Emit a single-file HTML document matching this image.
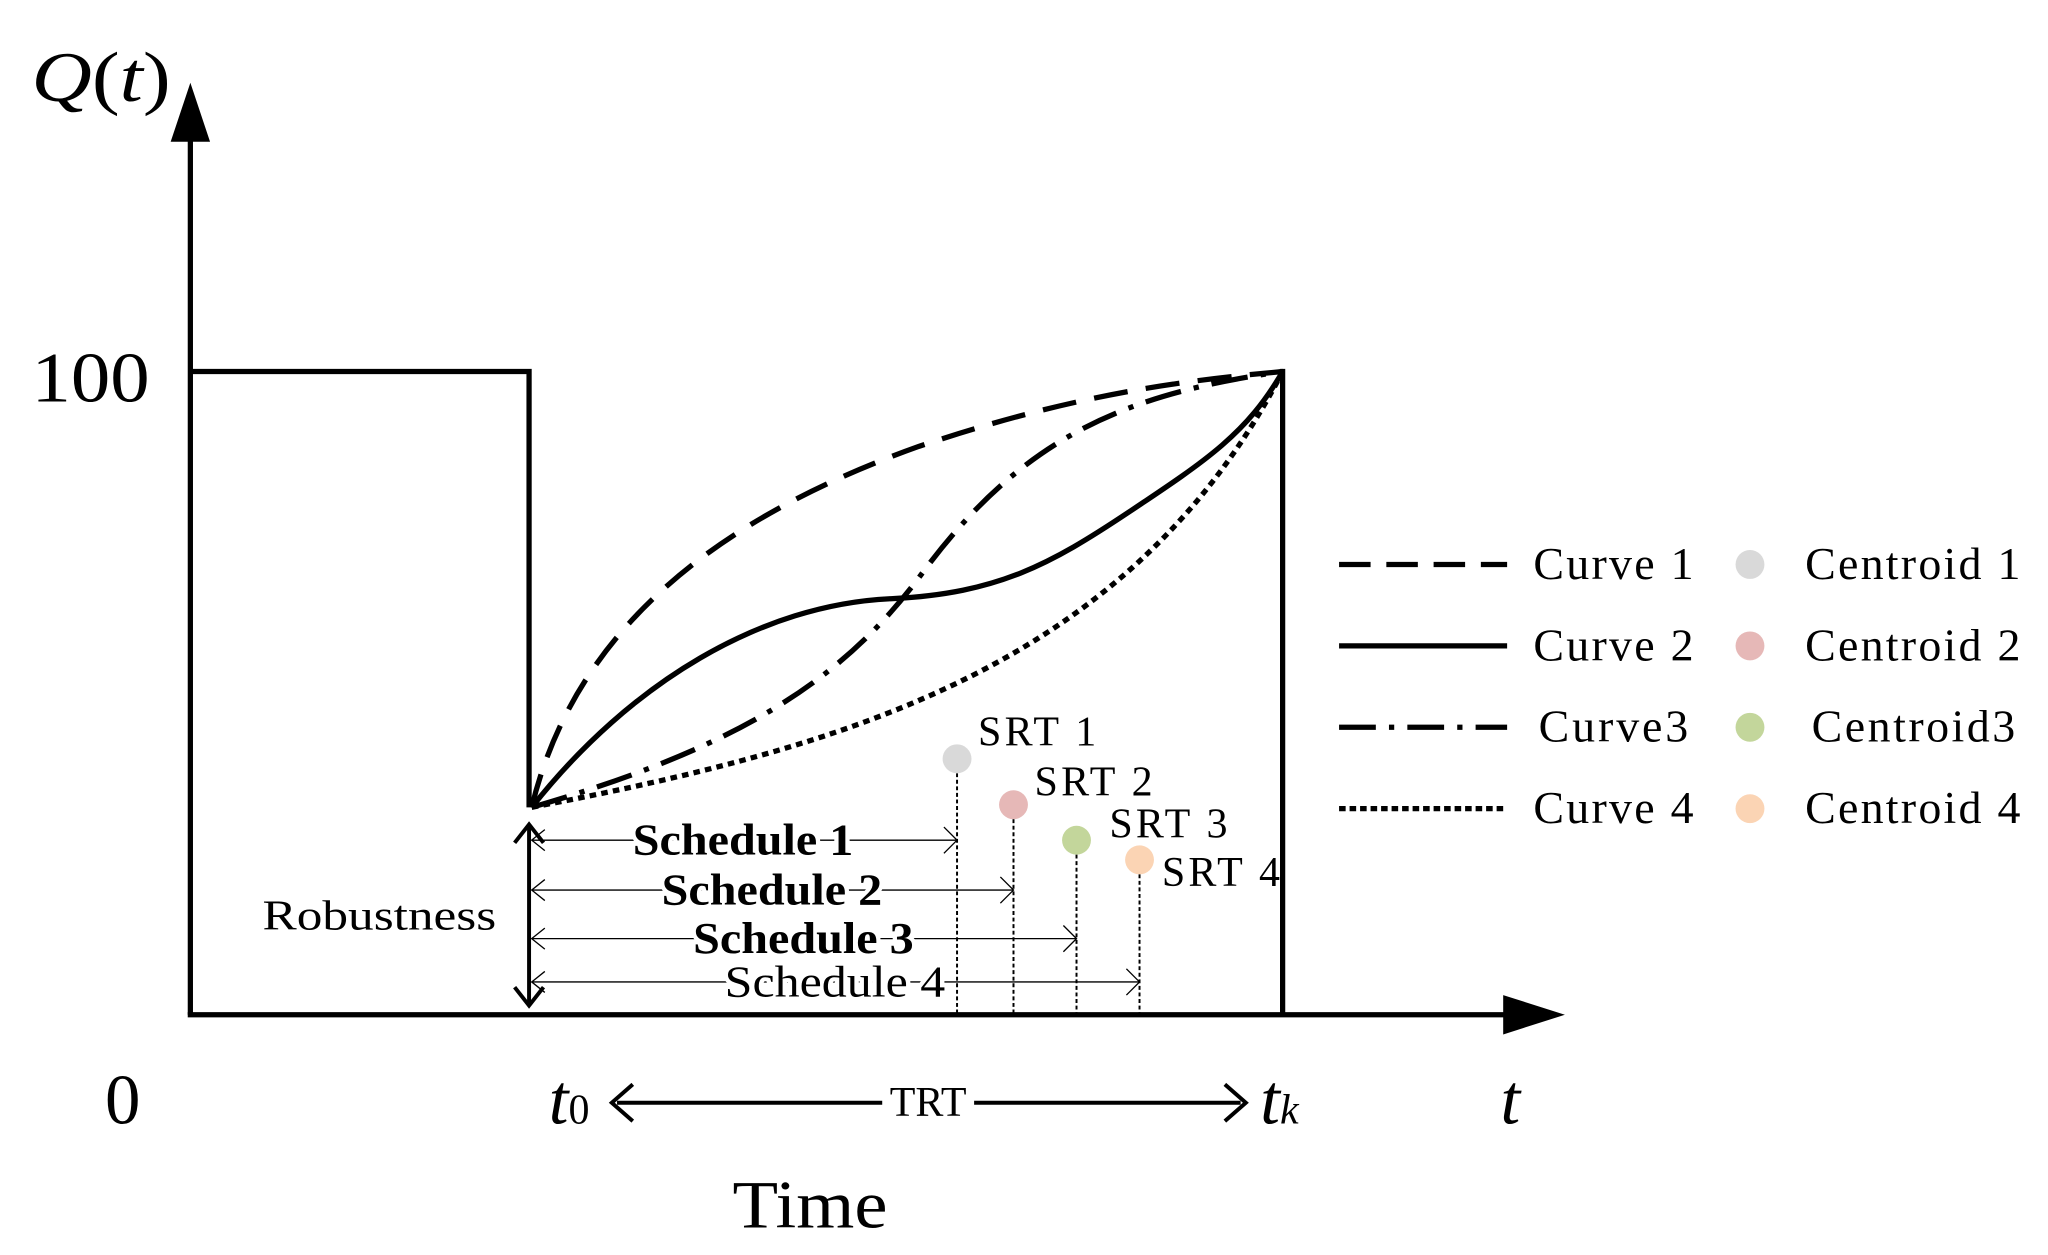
<!DOCTYPE html>
<html><head><style>html,body{margin:0;padding:0;background:#fff;}svg{display:block;}</style></head>
<body>
<svg width="2048" height="1255" viewBox="0 0 1560 956" preserveAspectRatio="none" xmlns="http://www.w3.org/2000/svg" font-family="Liberation Serif, serif">
<rect width="1560" height="956" fill="#fff"/>
<!-- axes -->
<line x1="145" y1="773" x2="145" y2="100" stroke="#000" stroke-width="4"/>
<polygon points="130,108 160,108 145,63" fill="#000"/>
<line x1="143" y1="773" x2="1150" y2="773" stroke="#000" stroke-width="4"/>
<polygon points="1145,758 1145,788 1192,773" fill="#000"/>
<!-- step -->
<polyline points="145,283 403,283 403,615" fill="none" stroke="#000" stroke-width="4"/>
<line x1="977" y1="281" x2="977" y2="773" stroke="#000" stroke-width="4"/>
<!-- curves -->
<path d="M405,615 C440,470 560,390 700,340 C820,300 900,290 977,283" fill="none" stroke="#000" stroke-width="4" stroke-dasharray="26,14"/>
<path d="M405,615 C480,520 580,460 680,456 C760,452 800,430 860,390 C920,350 950,330 977,283" fill="none" stroke="#000" stroke-width="4"/>
<path d="M405,615 C560,570 640,520 700,440 C780,330 860,300 977,283" fill="none" stroke="#000" stroke-width="4" stroke-dasharray="28,10,4,10"/>
<path d="M405,615 C640,570 860,510 977,283" fill="none" stroke="#000" stroke-width="4" stroke-dasharray="5,4"/>
<!-- centroids -->
<g stroke-width="1.5" stroke-dasharray="3,2">
<line x1="729" y1="589" x2="729" y2="772" stroke="#000"/>
<line x1="772" y1="624" x2="772" y2="772" stroke="#000"/>
<line x1="820" y1="651" x2="820" y2="772" stroke="#000"/>
<line x1="868" y1="666" x2="868" y2="772" stroke="#000"/>
</g>
<circle cx="729" cy="578" r="11" fill="#d9d9d9"/>
<circle cx="772" cy="613" r="11" fill="#e6b8b7"/>
<circle cx="820" cy="640" r="11" fill="#c3d69b"/>
<circle cx="868" cy="655" r="11" fill="#fbd4b4"/>
<g font-size="32" fill="#000" lengthAdjust="spacingAndGlyphs">
<text x="745" y="568" textLength="90">SRT 1</text>
<text x="788" y="606" textLength="90">SRT 2</text>
<text x="845" y="638" textLength="90">SRT 3</text>
<text x="885" y="675" textLength="90">SRT 4</text>
</g>
<!-- robustness arrow -->
<line x1="403" y1="628" x2="403" y2="766" stroke="#000" stroke-width="3"/>
<polyline points="392,642 403,628 414,642" fill="none" stroke="#000" stroke-width="3"/>
<polyline points="392,752 403,766 414,752" fill="none" stroke="#000" stroke-width="3"/>
<text x="200" y="708" font-size="32" textLength="178" lengthAdjust="spacingAndGlyphs">Robustness</text>
<!-- schedules -->
<g stroke="#000" stroke-width="1" fill="none">
<line x1="405" y1="640" x2="729" y2="640"/><polyline points="415,632 405,640 415,648"/><polyline points="719,630 729,640 719,650"/>
<line x1="405" y1="678" x2="772" y2="678"/><polyline points="415,670 405,678 415,686"/><polyline points="762,668 772,678 762,688"/>
<line x1="405" y1="715" x2="820" y2="715"/><polyline points="415,707 405,715 415,723"/><polyline points="810,705 820,715 810,725"/>
<line x1="405" y1="748" x2="868" y2="748"/><polyline points="415,740 405,748 415,756"/><polyline points="858,738 868,748 858,758"/>
</g>
<g font-size="34">
<text x="482" y="651" font-weight="bold" stroke="#fff" stroke-width="6" paint-order="stroke" textLength="168" lengthAdjust="spacingAndGlyphs">Schedule 1</text>
<text x="504" y="689" font-weight="bold" stroke="#fff" stroke-width="6" paint-order="stroke" textLength="168" lengthAdjust="spacingAndGlyphs">Schedule 2</text>
<text x="528" y="726" font-weight="bold" stroke="#fff" stroke-width="6" paint-order="stroke" textLength="168" lengthAdjust="spacingAndGlyphs">Schedule 3</text>
<text x="552" y="759" stroke="#fff" stroke-width="6" paint-order="stroke" textLength="168" lengthAdjust="spacingAndGlyphs">Schedule 4</text>
</g>
<!-- legend -->
<line x1="1020" y1="430" x2="1148" y2="430" stroke="#000" stroke-width="4" stroke-dasharray="24,12"/>
<line x1="1020" y1="492" x2="1148" y2="492" stroke="#000" stroke-width="4"/>
<line x1="1020" y1="554" x2="1148" y2="554" stroke="#000" stroke-width="4" stroke-dasharray="28,10,4,10"/>
<line x1="1020" y1="616" x2="1148" y2="616" stroke="#000" stroke-width="4" stroke-dasharray="5,3"/>
<circle cx="1333" cy="430" r="11" fill="#d9d9d9"/>
<circle cx="1333" cy="492" r="11" fill="#e6b8b7"/>
<circle cx="1333" cy="554" r="11" fill="#c3d69b"/>
<circle cx="1333" cy="616" r="11" fill="#fbd4b4"/>
<g font-size="35" lengthAdjust="spacingAndGlyphs">
<text x="1168" y="441" textLength="122">Curve 1</text>
<text x="1168" y="503" textLength="122">Curve 2</text>
<text x="1172" y="565" textLength="114">Curve3</text>
<text x="1168" y="627" textLength="122">Curve 4</text>
<text x="1375" y="441" textLength="164">Centroid 1</text>
<text x="1375" y="503" textLength="164">Centroid 2</text>
<text x="1380" y="565" textLength="155">Centroid3</text>
<text x="1375" y="627" textLength="164">Centroid 4</text>
</g>
<!-- labels -->
<text x="24" y="77" font-size="54" textLength="106" lengthAdjust="spacingAndGlyphs"><tspan font-style="italic">Q</tspan><tspan>(</tspan><tspan font-style="italic">t</tspan><tspan>)</tspan></text>
<text x="24" y="306" font-size="54" textLength="90" lengthAdjust="spacingAndGlyphs">100</text>
<text x="80" y="856" font-size="54">0</text>
<text x="418" y="856" font-size="54" font-style="italic">t<tspan font-size="32" font-style="normal">0</tspan></text>
<text x="960" y="856" font-size="54" font-style="italic">t<tspan font-size="32">k</tspan></text>
<text x="1143" y="856" font-size="54" font-style="italic">t</text>
<text x="558" y="935" font-size="52" textLength="118" lengthAdjust="spacingAndGlyphs">Time</text>
<line x1="470" y1="840" x2="672" y2="840" stroke="#000" stroke-width="3"/>
<line x1="742" y1="840" x2="945" y2="840" stroke="#000" stroke-width="3"/>
<polyline points="482,826 466,840 482,854" fill="none" stroke="#000" stroke-width="3"/>
<polyline points="933,826 949,840 933,854" fill="none" stroke="#000" stroke-width="3"/>
<text x="707" y="850" font-size="32" text-anchor="middle">TRT</text>
</svg>
</body></html>
